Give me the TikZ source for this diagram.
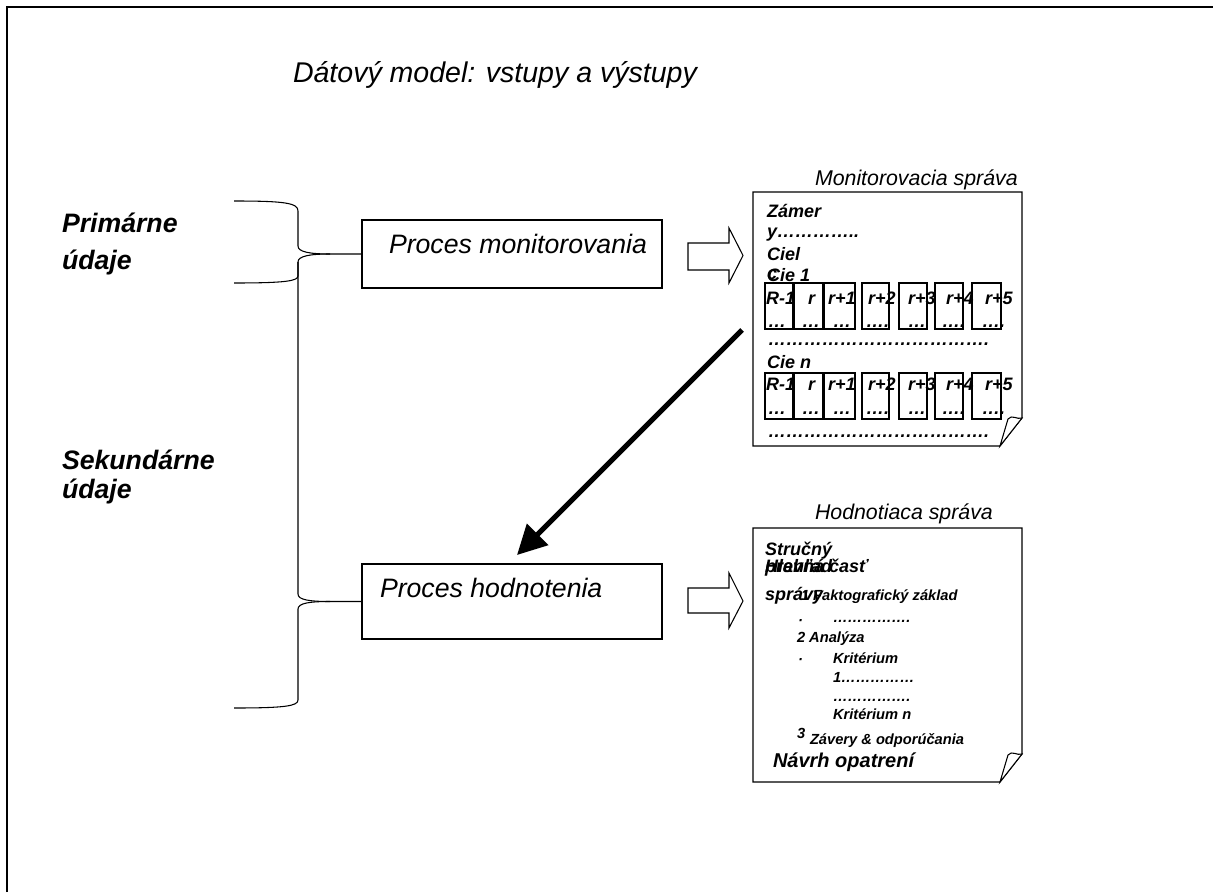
\documentclass[tikz,border=0pt]{standalone}
\usepackage{fontspec}
\setmainfont{Liberation Sans}
\usetikzlibrary{arrows.meta}
\begin{document}
\begin{tikzpicture}[x=0.75pt,y=-0.75pt,
  txt/.style={anchor=base west,inner sep=0pt,outer sep=0pt},
  heading/.style={txt,font=\fontsize{21.4}{25}\selectfont\itshape},
  side/.style={txt,font=\fontsize{20}{24}\selectfont\bfseries\itshape},
  proclabel/.style={txt,font=\fontsize{20}{24}\selectfont\itshape},
  procbox/.style={draw,line width=0.8pt,minimum width=225pt,inner sep=0pt},
  doctitle/.style={txt,font=\fontsize{16}{19}\selectfont\itshape},
  doctext/.style={txt,font=\fontsize{13.5}{16}\selectfont\bfseries\itshape},
  docsmall/.style={txt,font=\fontsize{11}{13}\selectfont\bfseries\itshape},
  docbig/.style={txt,font=\fontsize{15}{18}\selectfont\bfseries\itshape},
  page/.style={draw,line width=0.8pt,fill=white,line join=miter},
  cell/.style={draw,line width=0.8pt},
  hollow/.style={draw,line width=0.8pt,fill=white,line join=miter},
  brace/.style={draw,line width=0.8pt},
  frame/.style={line width=2pt},
  bigarrow/.style={line width=3.75pt,-{Triangle[length=22pt,width=22pt]}}
]
\useasboundingbox (0,0) rectangle (1213,892);

% outer frame
\draw[frame] (7,892) -- (7,7) -- (1213,7);

% title
\node[heading] (title) at (293,83) {Dátový model: vstupy a výstupy};

% data labels
\node[side] (prim1) at (62,232) {Primárne};
\node[side] (prim2) at (62,269) {údaje};
\node[side] (sek1) at (62,469) {Sekundárne};
\node[side] (sek2) at (62,498) {údaje};

% process boxes
\node[procbox,minimum height=51pt] (pm) at (512,254) {};
\node[proclabel] (pmtext) at (389,253) {Proces monitorovania};
\node[procbox,minimum height=56.25pt] (ph) at (512,601.5) {};
\node[proclabel] (phtext) at (380,597) {Proces hodnotenia};

% braces
\draw[brace] (234,201) .. controls (285,201) and (298,203) .. (298,211)
  -- (298,246) .. controls (298,252) and (310,254) .. (330,254) -- (pm.west);
\draw[brace] (330,254) .. controls (310,254) and (298,256) .. (298,262)
  -- (298,276) .. controls (298,281) and (285,283) .. (234,283);
\draw[brace] (298,262) -- (298,594) .. controls (298,600) and (310,601.5) .. (330,601.5) -- (ph.west);
\draw[brace] (330,601.5) .. controls (310,601.5) and (298,603) .. (298,609)
  -- (298,700) .. controls (298,706) and (285,708) .. (234,708);

% hollow block arrows
\draw[hollow] (688,243) -- (729,243) -- (729,228) -- (743,255.5) -- (729,283) -- (729,270) -- (688,270) -- cycle;
\draw[hollow] (688,588) -- (729,588) -- (729,573) -- (743,601) -- (729,628) -- (729,613) -- (688,613) -- cycle;

% monitoring report page
\node[doctitle] (montitle) at (815,185) {Monitorovacia správa};
\draw[page] (753,192) -- (1022,192) -- (1022,418) -- (1000,446) -- (753,446) -- cycle;
\draw[page] (1000,446) -- (1008,419) .. controls (1012,414) and (1017,420) .. (1022,418) -- cycle;
\coordinate (monout) at (742,330);

\node[doctext] (m1) at (767,217) {Zámer};
\node[doctext] (m2) at (767,237) {y…………..};
\node[doctext] (m3) at (767,260) {Ciel};
\node[doctext] (m4) at (767,279) {c};
\node[doctext] (m5) at (767,281) {Cie 1};

% result cells, two rows
\foreach \row/\top/\bot/\lb/\db in {1/283/329/304/327, 2/373/419/390/414} {
  \foreach \xa/\xb/\lx/\lab/\dx/\dd [count=\i] in {
      765/793/766/R-1/768/…,
      794/823/808/r/802/…,
      824/855/828/r+1/833/…,
      862/889/868/r+2/866/….,
      899/927/908/r+3/908/…,
      935/963/946/r+4/942/….,
      972/1001/985/r+5/982/….} {
    \draw[cell] (\xa,\top) rectangle (\xb,\bot);
    \node[doctext] (lab\row-\i) at (\lx,\lb) {\lab};
    \node[doctext] (dot\row-\i) at (\dx,\db) {\dd};
  }
}
\node[doctext] (mdots1) at (768,345) {……………………………….};
\node[doctext] (m6) at (767,368) {Cie n};
\node[doctext] (mdots2) at (768,437) {……………………………….};

% evaluation report page
\node[doctitle] (hodtitle) at (815,519) {Hodnotiaca správa};
\draw[page] (753,528) -- (1022,528) -- (1022,754) -- (1000,782) -- (753,782) -- cycle;
\draw[page] (1000,782) -- (1008,755) .. controls (1012,750) and (1017,756) .. (1022,754) -- cycle;

\node[doctext] (h1) at (765,555) {Stručný};
\node[doctext] (h2) at (765,572) {prehľad};
\node[doctext] (h3) at (765,572) {Hlavná časť};
\node[docsmall] (h4) at (801,600) {1 Faktografický základ};
\node[doctext] (h5) at (765,600) {správy};
\node[docsmall] (h6) at (798,625) {·};
\node[docsmall] (h7) at (833,622) {…………….};
\node[docsmall] (h8) at (797,642) {2 Analýza};
\node[docsmall] (h9) at (798,664) {·};
\node[docsmall] (h10) at (833,663) {Kritérium};
\node[docsmall] (h11) at (833,682) {1……………};
\node[docsmall] (h12) at (833,701) {…………….};
\node[docsmall] (h13) at (833,719) {Kritérium n};
\node[docsmall] (h14) at (797,738) {3};
\node[docsmall] (h15) at (810,744) {Závery \& odporúčania};
\node[docbig] (h16) at (773,767) {Návrh opatrení};

% flow from monitoring report to evaluation
\coordinate (hodin) at (517,555);
\draw[bigarrow] (monout) -- (hodin);
\end{tikzpicture}
\end{document}
